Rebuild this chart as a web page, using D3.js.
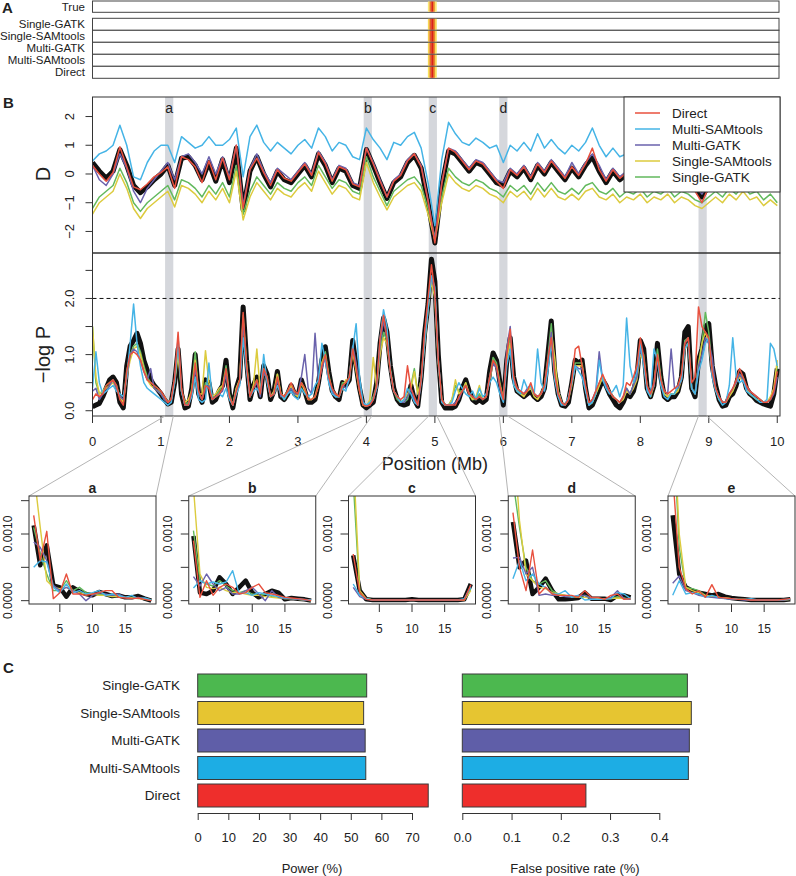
<!DOCTYPE html>
<html><head><meta charset="utf-8">
<script src="https://cdn.jsdelivr.net/npm/d3@7"></script>
<style>body{margin:0;background:#fff}svg{display:block}text{font-family:"Liberation Sans",Arial,Helvetica,sans-serif;fill:#222}</style>
</head><body>
<svg id="chart" width="796" height="876"></svg>
<script>
// ---------------- DATA ----------------
const methods = ["Direct","Multi-SAMtools","Multi-GATK","Single-SAMtools","Single-GATK"];
const drawOrder = ["True","Single-GATK","Single-SAMtools","Multi-GATK","Multi-SAMtools","Direct"];
const rowLabelsA = ["True","Single-GATK","Single-SAMtools","Multi-GATK","Multi-SAMtools","Direct"];
const barCats = ["Single-GATK","Single-SAMtools","Multi-GATK","Multi-SAMtools","Direct"];
const powerVals = [55.2, 54.2, 54.7, 54.9, 75.3];
const fprVals = [0.457, 0.465, 0.461, 0.459, 0.251];
const powerTicks = [0,10,20,30,40,50,60,70];
const fprTicks = [0,0.1,0.2,0.3,0.4];
const posTicks = [0,1,2,3,4,5,6,7,8,9,10];
const dTicks = [-2,-1,0,1,2];
const pTicks = [0,0.5,1,1.5,2,2.5];
const pLabelTicks = [0,1,2];
const insetYTicks = [0,0.0005,0.001,0.0015];
const insetYLabelTicks = [0,0.001];
const insetXTicks = [5,10,15];
const zoomNames = ["a","b","c","d","e"];
const zoomCenters = [1.12, 4.02, 4.97, 6.0, 8.91];
const threshold = 2.0;

// Panel A heat strip
const heatPos = [4.91, 4.935, 4.96, 4.985, 5.01];
const heatTrue = [0.25,0.7,1.0,0.7,0.25];
const heatSingleGATK = [0.35,0.8,1.0,0.8,0.35];
const heatSingleSAMtools = [0.4,0.8,1.0,0.8,0.35];
const heatMultiGATK = [0.35,0.8,1.0,0.8,0.3];
const heatMultiSAMtools = [0.35,0.75,1.0,0.8,0.35];
const heatDirect = [0.3,0.75,1.0,0.75,0.3];

// D statistic, 0.1 Mb grid
const dPos = d3.range(101).map(i => +(i*0.1).toFixed(2));
const trueD = [0.40,0.10,-0.15,0.10,0.85,0.30,-0.40,-0.65,-0.45,-0.20,
0.00,0.30,-0.40,0.55,0.60,0.30,-0.20,0.40,-0.25,0.50,
-0.30,0.90,-1.25,0.10,0.60,0.00,-0.45,0.10,-0.20,-0.30,
0.00,0.30,-0.10,0.70,0.30,-0.30,0.20,0.10,-0.40,-0.50,
0.85,0.30,-0.30,-0.85,-0.30,-0.10,0.40,0.65,0.20,-1.00,
-2.40,-0.40,0.80,0.70,0.40,0.10,0.40,0.30,0.00,-0.30,
-0.40,0.10,-0.10,0.20,-0.20,0.30,0.00,0.40,0.10,-0.20,
0.20,-0.10,0.30,0.60,0.10,-0.30,0.10,-0.20,0.00,-0.20,
0.20,-0.20,0.10,-0.30,0.00,-0.20,0.10,-0.30,-0.50,-0.80,
-0.40,0.00,-0.30,0.10,-0.20,0.20,-0.10,0.00,-0.30,-0.10,
0.00];
const directD = [0.30,0.00,-0.25,0.05,0.95,0.25,-0.45,-0.55,-0.35,-0.10,
0.05,0.25,-0.50,0.60,0.50,0.25,-0.30,0.45,-0.20,0.55,
-0.20,1.00,-1.20,0.15,0.55,0.05,-0.40,0.15,-0.15,-0.25,
0.05,0.35,-0.05,0.75,0.35,-0.25,0.25,0.15,-0.35,-0.45,
0.90,0.35,-0.25,-0.80,-0.25,-0.05,0.45,0.70,0.25,-0.95,
-2.40,-0.35,0.90,0.75,0.45,0.15,0.45,0.35,0.05,-0.25,
-0.50,0.15,-0.05,0.25,-0.15,0.35,0.05,0.45,0.15,-0.15,
0.25,-0.05,0.35,0.90,0.15,-0.25,0.15,-0.15,0.05,-0.15,
0.25,-0.15,0.15,-0.25,0.05,-0.15,0.15,-0.35,-0.60,-1.00,
-0.45,0.05,-0.25,0.15,-0.15,0.25,-0.05,0.05,-0.25,-0.05,
0.05];
const msamD = [0.45,0.70,0.80,1.00,1.70,1.00,-0.10,-0.20,0.40,0.80,
1.00,1.00,0.40,1.30,1.10,0.90,1.00,1.30,1.00,1.00,
1.20,1.60,-0.10,1.30,1.70,1.10,0.80,1.10,0.90,0.70,
1.00,1.20,0.90,1.60,1.30,0.80,1.10,1.00,0.60,0.50,
1.60,1.20,0.90,0.50,1.10,1.00,1.30,1.45,0.90,-0.30,
-1.80,0.50,1.80,1.40,1.10,1.00,1.25,1.10,0.90,1.00,
0.40,1.00,0.80,1.10,0.80,1.40,0.90,1.20,0.90,0.70,
1.00,0.80,1.10,1.60,1.00,0.60,0.90,0.60,0.70,0.60,
0.90,0.50,0.80,0.50,0.70,0.50,0.80,0.40,0.30,0.00,
0.50,0.90,0.70,1.10,0.90,1.50,1.10,1.20,0.80,1.00,
0.90];
const mgatkD = [0.30,-0.20,-0.40,0.00,0.70,0.20,-0.60,-1.00,-0.50,-0.20,
0.10,0.40,-0.20,0.60,0.70,0.40,0.00,0.60,0.00,0.60,
-0.10,1.00,-1.10,0.20,0.70,0.10,-0.30,0.20,0.00,-0.20,
0.10,0.40,0.00,0.80,0.40,-0.20,0.30,0.20,-0.30,-0.40,
0.90,0.40,-0.20,-0.80,-0.20,0.00,0.50,0.70,0.30,-0.90,
-2.30,-0.30,0.90,0.80,0.50,0.20,0.50,0.40,0.10,-0.20,
-0.30,0.20,0.00,0.30,-0.10,0.40,0.10,0.50,0.20,-0.10,
0.40,0.00,0.40,0.70,0.30,-0.20,0.20,-0.10,0.10,-0.10,
0.30,-0.10,0.20,-0.20,0.10,-0.10,0.20,-0.20,-0.40,-0.70,
-0.30,0.10,-0.20,0.20,-0.10,0.30,0.00,0.10,-0.20,0.00,
0.10];
const ssamD = [-1.40,-1.00,-0.80,-0.60,0.00,-0.50,-1.20,-1.55,-1.20,-1.00,
-0.80,-0.60,-1.15,-0.40,-0.50,-0.70,-1.00,-0.60,-0.90,-0.50,
-1.00,0.10,-1.60,-0.80,-0.30,-0.60,-0.90,-0.50,-0.70,-0.80,
-0.50,-0.30,-0.60,0.10,-0.30,-0.70,-0.40,-0.50,-0.80,-0.90,
0.40,-0.30,-0.80,-1.25,-0.80,-0.60,-0.40,-0.30,-0.60,-1.40,
-2.30,-1.00,0.00,-0.30,-0.50,-0.60,-0.40,-0.50,-0.70,-0.80,
-1.00,-0.60,-0.80,-0.60,-0.90,-0.50,-0.80,-0.50,-0.80,-0.90,
-0.70,-0.90,-0.60,-0.50,-0.80,-0.90,-0.70,-1.00,-0.80,-0.90,
-0.70,-1.00,-0.80,-0.90,-0.70,-1.00,-0.80,-0.90,-1.10,-1.20,
-1.00,-0.80,-1.00,-0.70,-0.90,-0.60,-0.90,-0.80,-1.10,-0.90,
-1.10];
const sgatkD = [-1.20,-0.80,-0.60,-0.40,0.20,-0.30,-1.00,-1.30,-1.00,-0.80,
-0.60,-0.40,-0.90,-0.20,-0.30,-0.50,-0.80,-0.40,-0.70,-0.30,
-0.80,0.30,-1.40,-0.60,-0.10,-0.40,-0.70,-0.30,-0.50,-0.60,
-0.30,-0.10,-0.40,0.30,-0.10,-0.50,-0.20,-0.30,-0.60,-0.70,
0.60,-0.10,-0.60,-1.10,-0.60,-0.40,-0.20,-0.10,-0.40,-1.20,
-2.20,-0.80,0.20,-0.10,-0.30,-0.40,-0.20,-0.30,-0.50,-0.60,
-0.80,-0.40,-0.60,-0.40,-0.70,-0.30,-0.60,-0.30,-0.60,-0.70,
-0.50,-0.70,-0.40,-0.30,-0.60,-0.70,-0.50,-0.80,-0.60,-0.70,
-0.50,-0.80,-0.60,-0.70,-0.50,-0.80,-0.60,-0.70,-0.90,-1.00,
-0.80,-0.60,-0.80,-0.50,-0.70,-0.40,-0.70,-0.60,-0.90,-0.70,
-1.00];

// -log P, 0.05 Mb grid
const pPos = d3.range(201).map(i => +(i*0.05).toFixed(2));
const trueP = [0.07,0.10,0.13,0.25,0.40,0.55,0.60,0.50,0.15,0.05,0.80,1.15,1.25,1.38,1.20,0.90,0.72,0.55,0.45,0.38,
0.30,0.20,0.12,0.15,0.50,1.10,0.30,0.05,0.08,0.40,1.00,0.30,0.15,0.55,0.50,0.15,0.20,0.35,0.45,0.90,
0.30,0.05,0.40,0.60,1.85,0.90,0.20,0.45,0.60,0.25,0.80,0.65,0.20,0.35,0.70,0.25,0.20,0.30,0.45,0.30,
0.25,0.55,0.35,0.15,0.15,0.20,0.50,0.90,1.14,0.70,0.36,0.25,0.20,0.50,0.45,0.55,1.25,0.80,0.40,0.10,
0.05,0.10,0.15,0.50,1.20,1.65,1.40,0.80,0.40,0.20,0.12,0.10,0.12,0.45,0.20,0.08,0.60,1.38,1.90,2.70,
2.30,1.00,0.15,0.05,0.05,0.05,0.08,0.20,0.40,0.55,0.35,0.20,0.15,0.20,0.15,0.20,0.70,1.03,0.90,0.50,
0.10,0.90,1.30,0.60,0.35,0.30,0.25,0.30,0.35,0.25,0.20,0.25,0.40,1.00,1.60,0.70,0.30,0.10,0.08,0.15,
0.50,0.90,0.85,0.90,0.40,0.05,0.10,0.25,0.40,0.55,0.45,0.30,0.20,0.10,0.05,0.15,0.30,0.25,0.35,0.60,
1.25,1.10,0.40,0.25,0.45,1.20,0.60,0.25,0.20,0.25,0.25,0.35,0.60,1.40,1.50,0.40,0.25,0.90,1.10,1.50,
1.55,0.80,0.45,0.20,0.08,0.10,0.25,0.30,0.45,0.70,0.65,0.40,0.30,0.25,0.18,0.15,0.12,0.10,0.08,0.30,
0.75];
const directP = [0.20,0.30,0.25,0.30,0.45,0.50,0.55,0.45,0.20,0.10,0.70,1.00,1.05,1.00,0.90,0.70,0.55,0.50,0.45,0.40,
0.35,0.25,0.15,0.20,0.60,1.40,0.40,0.10,0.10,0.35,0.85,0.35,0.20,0.45,0.40,0.20,0.25,0.30,0.40,0.75,
0.25,0.10,0.35,0.55,1.75,0.80,0.25,0.40,0.55,0.30,0.75,0.60,0.25,0.30,0.60,0.30,0.25,0.35,0.50,0.35,
0.30,0.50,0.40,0.20,0.20,0.25,0.45,0.80,1.00,0.60,0.40,0.30,0.25,0.45,0.50,0.60,1.10,0.75,0.35,0.10,
0.08,0.10,0.20,0.45,1.30,1.70,1.30,0.70,0.35,0.25,0.20,0.25,0.80,0.40,0.25,0.10,0.55,1.40,2.00,2.60,
2.10,0.90,0.20,0.10,0.10,0.10,0.10,0.25,0.35,0.45,0.30,0.25,0.20,0.25,0.20,0.25,0.60,0.90,0.80,0.45,
0.20,1.00,1.45,0.60,0.40,0.35,0.30,0.35,0.50,0.30,0.25,0.30,0.45,0.90,1.30,0.65,0.30,0.15,0.10,0.20,
0.55,1.10,1.15,0.80,0.45,0.15,0.20,0.35,0.50,0.65,0.50,0.35,0.25,0.20,0.15,0.25,0.50,0.45,0.60,0.80,
1.30,0.95,0.45,0.30,0.50,1.00,0.55,0.35,0.30,0.35,0.40,0.45,0.65,1.20,1.30,0.50,0.60,1.85,1.50,1.40,
1.30,0.70,0.40,0.25,0.15,0.15,0.30,0.40,0.55,0.75,0.60,0.45,0.35,0.30,0.25,0.20,0.15,0.15,0.20,0.35,
0.70];
const msamP = [0.40,1.05,0.50,0.30,0.35,0.40,0.45,0.35,0.30,0.25,0.60,1.20,1.90,1.20,0.80,0.50,0.40,0.35,0.30,0.25,
0.20,0.15,0.10,0.15,0.50,1.20,0.35,0.10,0.10,0.25,0.60,0.20,0.15,0.20,0.85,0.20,0.25,0.30,0.25,0.40,
0.20,0.10,0.30,0.45,1.30,0.70,0.25,0.35,0.40,0.30,1.00,0.50,0.25,0.30,0.45,0.30,0.20,0.30,0.35,0.25,
0.20,0.40,0.30,0.25,0.30,0.45,0.55,1.20,0.90,0.50,0.30,0.25,0.25,0.40,0.35,0.60,1.10,1.55,0.60,0.15,
0.10,0.15,0.20,0.40,1.30,1.80,1.50,0.70,0.35,0.25,0.15,0.20,0.40,0.30,0.15,0.10,0.50,1.20,1.80,2.40,
2.20,0.90,0.15,0.10,0.10,0.15,0.35,0.50,0.40,0.30,0.25,0.35,0.20,0.40,0.25,0.30,0.50,0.60,0.50,0.30,
0.15,0.80,1.10,0.45,0.35,0.30,0.55,0.40,0.45,0.30,1.10,0.50,0.35,0.70,1.20,0.55,0.25,0.10,0.10,0.25,
0.50,0.80,0.70,0.60,0.35,0.10,0.15,0.30,0.90,0.55,0.40,0.30,0.35,0.45,0.25,0.45,1.65,0.80,0.50,0.70,
1.20,0.80,0.35,0.25,1.10,0.90,0.45,0.25,0.20,0.30,0.30,0.45,0.55,1.10,1.20,0.40,0.30,0.70,0.90,1.20,
1.30,0.60,0.35,0.20,0.10,0.15,0.45,1.30,0.60,0.50,0.55,0.35,0.30,0.25,0.20,0.15,0.15,0.20,1.20,1.10,
0.80];
const mgatkP = [0.35,0.40,0.20,0.30,0.35,0.45,0.55,0.40,0.25,0.20,0.60,1.00,1.10,1.05,0.90,0.70,0.55,0.75,0.40,0.35,
0.30,0.20,0.15,0.20,0.55,1.30,0.35,0.10,0.10,0.30,0.75,0.30,0.20,0.40,0.45,0.20,0.25,0.30,0.35,0.65,
0.25,0.10,0.35,0.50,1.60,0.75,0.25,0.40,0.50,0.25,0.70,0.55,0.25,0.30,0.55,0.25,0.25,0.30,0.40,0.30,
0.30,0.60,1.00,0.40,0.30,1.38,0.50,0.75,0.95,0.55,0.35,0.25,0.25,0.45,0.40,0.55,1.15,0.85,0.40,0.15,
0.08,0.10,0.20,0.40,1.20,1.60,1.30,0.70,0.35,0.25,0.15,0.15,0.25,0.40,0.20,0.10,0.55,1.30,1.90,2.40,
2.10,0.90,0.20,0.10,0.10,0.10,0.15,0.20,0.35,0.45,0.30,0.25,0.20,0.25,0.20,0.25,0.60,0.85,0.75,0.40,
0.20,1.10,1.50,0.55,0.40,0.35,0.30,0.40,0.45,0.30,0.25,0.30,0.40,0.90,1.40,0.60,0.30,0.15,0.10,0.20,
0.50,0.80,0.75,0.75,0.40,0.10,0.20,0.35,1.05,0.55,0.45,0.35,0.25,0.20,0.15,0.25,0.40,0.30,0.45,0.60,
1.10,0.90,0.40,0.30,0.45,0.95,0.55,0.35,0.30,1.10,0.40,0.40,0.55,1.20,1.30,0.40,0.30,0.80,1.00,1.30,
1.20,0.95,0.40,0.25,0.15,0.15,0.30,0.40,0.50,0.65,0.55,0.40,0.35,0.30,0.25,0.20,0.15,0.15,0.20,0.30,
0.60];
const ssamP = [1.50,0.60,0.30,0.35,0.40,0.45,0.50,0.40,0.25,0.15,0.60,0.90,1.10,1.15,1.00,0.75,0.55,0.45,0.40,0.35,
0.30,0.25,0.15,0.20,0.50,1.00,0.35,0.15,0.20,0.35,0.90,0.30,0.30,1.07,0.50,0.25,0.30,0.40,0.45,0.70,
0.25,0.10,0.40,0.55,1.60,0.80,0.25,0.45,1.10,0.35,0.70,0.55,0.25,0.35,0.65,0.30,0.25,0.35,0.45,0.30,
0.25,0.50,0.35,0.20,0.20,0.25,0.45,0.85,1.00,0.60,0.35,0.30,0.25,0.40,0.55,0.55,1.05,0.70,0.35,0.10,
0.08,0.20,0.95,0.40,1.00,1.30,1.20,0.70,0.35,0.25,0.15,0.20,0.30,0.40,0.70,0.30,0.55,1.20,1.80,2.30,
2.00,0.85,0.20,0.10,0.10,0.20,0.55,0.30,0.35,0.50,0.30,0.20,0.25,0.45,0.20,0.25,0.55,0.85,0.80,0.45,
0.20,0.90,1.20,0.55,0.35,0.30,0.25,0.35,0.40,0.25,0.20,0.30,0.45,0.85,1.40,0.95,0.35,0.15,0.10,0.20,
0.45,0.80,0.80,0.80,0.40,0.10,0.15,0.30,0.45,0.60,0.45,0.35,0.25,0.20,0.15,0.20,0.35,0.30,0.40,0.55,
1.00,0.90,0.40,0.25,0.45,1.00,0.55,0.30,0.25,0.30,0.30,0.35,0.55,1.10,1.20,0.40,0.30,0.80,1.20,1.40,
1.20,0.70,0.40,0.20,0.15,0.15,0.25,0.35,0.50,0.60,0.55,0.40,0.30,0.25,0.20,0.20,0.15,0.15,0.25,0.40,
0.90];
const sgatkP = [1.50,0.50,0.30,0.35,0.45,0.50,0.55,0.45,0.25,0.15,0.70,1.00,1.15,1.20,1.05,0.80,0.60,0.50,0.45,0.40,
0.30,0.20,0.15,0.20,0.55,1.10,0.35,0.10,0.15,0.40,1.05,0.30,0.20,0.50,0.45,0.20,0.25,0.35,0.45,0.80,
0.30,0.10,0.40,0.55,1.70,0.85,0.25,0.45,0.55,0.30,0.75,0.60,0.25,0.30,0.65,0.30,0.20,0.30,0.45,0.30,
0.25,0.50,0.40,0.20,0.20,0.25,0.50,0.85,1.05,0.65,0.35,0.25,0.25,0.50,0.50,0.60,1.15,0.75,0.40,0.10,
0.08,0.15,0.25,0.45,1.10,1.40,1.25,0.75,0.35,0.20,0.15,0.15,0.20,0.45,0.75,0.30,0.55,1.30,1.90,2.40,
2.10,0.90,0.20,0.10,0.10,0.20,0.45,0.35,0.35,0.50,0.30,0.20,0.20,0.30,0.20,0.25,0.60,0.95,0.85,0.50,
0.20,0.95,1.30,0.55,0.40,0.30,0.30,0.35,0.40,0.30,0.25,0.30,0.45,0.95,1.55,0.70,0.35,0.15,0.10,0.20,
0.50,0.85,0.85,0.85,0.40,0.10,0.15,0.30,0.45,0.60,0.45,0.35,0.25,0.20,0.15,0.20,0.40,0.30,0.45,0.60,
1.10,1.00,0.40,0.30,0.45,1.10,0.60,0.30,0.25,0.30,0.30,0.40,0.60,1.25,1.30,0.40,0.30,0.85,1.20,1.75,
1.40,0.75,0.40,0.20,0.15,0.15,0.30,0.35,0.50,0.65,0.60,0.40,0.30,0.25,0.20,0.20,0.15,0.15,0.20,0.35,
0.80];

// Zoomed insets (a..e), x = 1..19
const insetX = d3.range(1, 20);
const insetTrue = [
[0.00113,0.00053,0.00083,0.00023,0.00020,0.00006,0.00020,0.00014,0.00010,0.00008,0.00013,0.00010,0.00007,0.00008,0.00005,0.00005,0.00007,0.00003,0.00000],
[0.00097,0.00012,0.00010,0.00015,0.00035,0.00025,0.00010,0.00020,0.00030,0.00012,0.00005,0.00010,0.00015,0.00012,0.00002,0.00004,0.00003,0.00002,0.00000],
[0.00068,0.00015,0.00002,0.00001,0.00001,0.00001,0.00001,0.00001,0.00001,0.00002,0.00001,0.00001,0.00001,0.00001,0.00001,0.00001,0.00001,0.00002,0.00025],
[0.00118,0.00050,0.00060,0.00010,0.00020,0.00033,0.00015,0.00002,0.00002,0.00003,0.00004,0.00012,0.00003,0.00003,0.00003,0.00001,0.00008,0.00008,0.00005],
[0.00128,0.00040,0.00020,0.00015,0.00012,0.00010,0.00008,0.00010,0.00006,0.00004,0.00003,0.00002,0.00001,0.00001,0.00001,0.00001,0.00001,0.00001,0.00002]];
const insetDirect = [
[0.00128,0.00060,0.00104,0.00003,0.00012,0.00040,0.00010,0.00010,0.00008,0.00010,0.00012,0.00015,0.00015,0.00005,0.00004,0.00003,0.00004,0.00002,0.00000],
[0.00090,0.00005,0.00030,0.00008,0.00020,0.00025,0.00020,0.00010,0.00012,0.00020,0.00025,0.00012,0.00010,0.00008,0.00005,0.00004,0.00003,0.00002,0.00000],
[0.00070,0.00012,0.00002,0.00001,0.00001,0.00001,0.00001,0.00001,0.00001,0.00001,0.00001,0.00001,0.00001,0.00001,0.00001,0.00001,0.00001,0.00001,0.00024],
[0.00132,0.00050,0.00015,0.00076,0.00010,0.00020,0.00010,0.00008,0.00008,0.00008,0.00005,0.00015,0.00005,0.00005,0.00002,0.00008,0.00010,0.00002,0.00003],
[0.00190,0.00050,0.00018,0.00010,0.00015,0.00005,0.00024,0.00005,0.00004,0.00003,0.00002,0.00002,0.00001,0.00001,0.00001,0.00001,0.00001,0.00002,0.00003]];
const insetMultiSAM = [
[0.00050,0.00060,0.00058,0.00020,0.00012,0.00025,0.00012,0.00015,0.00010,0.00012,0.00015,0.00008,0.00010,0.00008,0.00005,0.00008,0.00003,0.00004,0.00001],
[0.00019,0.00030,0.00025,0.00028,0.00025,0.00028,0.00045,0.00010,0.00012,0.00008,0.00012,0.00010,0.00008,0.00006,0.00004,0.00003,0.00003,0.00002,0.00001],
[0.00025,0.00008,0.00003,0.00001,0.00001,0.00001,0.00001,0.00001,0.00001,0.00001,0.00001,0.00001,0.00001,0.00001,0.00001,0.00001,0.00001,0.00003,0.00020],
[0.00033,0.00060,0.00030,0.00040,0.00025,0.00020,0.00010,0.00010,0.00015,0.00005,0.00008,0.00001,0.00002,0.00002,0.00002,0.00003,0.00012,0.00010,0.00003],
[0.00008,0.00030,0.00010,0.00012,0.00010,0.00005,0.00008,0.00005,0.00003,0.00003,0.00002,0.00002,0.00003,0.00001,0.00001,0.00001,0.00001,0.00002,0.00002]];
const insetMultiGATK = [
[0.00088,0.00080,0.00060,0.00023,0.00015,0.00020,0.00015,0.00010,0.00000,0.00008,0.00012,0.00010,0.00008,0.00010,0.00005,0.00003,0.00005,0.00003,0.00000],
[0.00036,0.00022,0.00040,0.00025,0.00015,0.00020,0.00010,0.00010,0.00015,0.00020,0.00010,0.00000,0.00015,0.00005,0.00003,0.00003,0.00002,0.00001,0.00000],
[0.00020,0.00006,0.00002,0.00001,0.00001,0.00001,0.00001,0.00001,0.00001,0.00001,0.00001,0.00001,0.00001,0.00001,0.00001,0.00001,0.00001,0.00002,0.00022],
[0.00064,0.00065,0.00040,0.00050,0.00008,0.00010,0.00008,0.00008,0.00006,0.00005,0.00008,0.00008,0.00003,0.00002,0.00002,0.00005,0.00015,0.00003,0.00002],
[0.00026,0.00037,0.00015,0.00012,0.00008,0.00006,0.00005,0.00004,0.00003,0.00002,0.00002,0.00001,0.00001,0.00001,0.00001,0.00001,0.00001,0.00001,0.00002]];
const insetSingleSAM = [
[0.00195,0.00110,0.00030,0.00020,0.00018,0.00020,0.00015,0.00012,0.00010,0.00010,0.00008,0.00008,0.00006,0.00006,0.00005,0.00004,0.00003,0.00002,0.00001],
[0.00170,0.00040,0.00020,0.00018,0.00020,0.00015,0.00012,0.00012,0.00010,0.00008,0.00008,0.00006,0.00005,0.00004,0.00003,0.00003,0.00002,0.00001,0.00000],
[0.00220,0.00015,0.00003,0.00001,0.00001,0.00001,0.00001,0.00001,0.00001,0.00001,0.00001,0.00001,0.00001,0.00001,0.00001,0.00001,0.00001,0.00001,0.00015],
[0.00260,0.00120,0.00040,0.00030,0.00020,0.00018,0.00012,0.00010,0.00008,0.00006,0.00005,0.00005,0.00004,0.00003,0.00003,0.00003,0.00004,0.00003,0.00002],
[0.00300,0.00100,0.00020,0.00015,0.00012,0.00008,0.00006,0.00005,0.00004,0.00003,0.00002,0.00002,0.00001,0.00001,0.00001,0.00001,0.00001,0.00001,0.00002]];
const insetSingleGATK = [
[0.00110,0.00070,0.00040,0.00015,0.00015,0.00030,0.00015,0.00020,0.00012,0.00010,0.00010,0.00008,0.00007,0.00008,0.00005,0.00005,0.00004,0.00003,0.00001],
[0.00105,0.00030,0.00025,0.00022,0.00030,0.00022,0.00015,0.00012,0.00015,0.00010,0.00008,0.00010,0.00006,0.00005,0.00003,0.00003,0.00002,0.00001,0.00000],
[0.00180,0.00010,0.00003,0.00001,0.00001,0.00001,0.00001,0.00001,0.00001,0.00001,0.00001,0.00001,0.00001,0.00001,0.00001,0.00001,0.00001,0.00002,0.00018],
[0.00180,0.00110,0.00050,0.00030,0.00025,0.00030,0.00015,0.00010,0.00008,0.00006,0.00006,0.00008,0.00004,0.00003,0.00003,0.00003,0.00006,0.00004,0.00002],
[0.00280,0.00080,0.00020,0.00018,0.00015,0.00008,0.00006,0.00005,0.00004,0.00003,0.00002,0.00002,0.00001,0.00001,0.00001,0.00001,0.00001,0.00001,0.00002]];

// ---------------- STYLE ----------------
const lineColor = {"True":"#111111","Direct":"#e8503e","Multi-SAMtools":"#45b4e6","Multi-GATK":"#6a62ac","Single-SAMtools":"#dccb3e","Single-GATK":"#62b95d"};
const barColor = {"Single-GATK":"#4cb84f","Single-SAMtools":"#e6c531","Multi-GATK":"#5f5ea8","Multi-SAMtools":"#1dade4","Direct":"#ee2e2c"};
const lw = name => name === "True" ? 5 : 1.5;

const dSeries = {"True":trueD,"Direct":directD,"Multi-SAMtools":msamD,"Multi-GATK":mgatkD,"Single-SAMtools":ssamD,"Single-GATK":sgatkD};
const pSeries = {"True":trueP,"Direct":directP,"Multi-SAMtools":msamP,"Multi-GATK":mgatkP,"Single-SAMtools":ssamP,"Single-GATK":sgatkP};
const insetSeries = {"True":insetTrue,"Direct":insetDirect,"Multi-SAMtools":insetMultiSAM,"Multi-GATK":insetMultiGATK,"Single-SAMtools":insetSingleSAM,"Single-GATK":insetSingleGATK};
const heatRows = {"True":heatTrue,"Single-GATK":heatSingleGATK,"Single-SAMtools":heatSingleSAMtools,"Multi-GATK":heatMultiGATK,"Multi-SAMtools":heatMultiSAMtools,"Direct":heatDirect};

// ---------------- DRAW ----------------
const svg = d3.select("#chart");
const defs = svg.append("defs");

const X0 = 92.5, X1 = 780;
const x = d3.scaleLinear().domain([0, 10.04]).range([X0, X1]);
const yD = d3.scaleLinear().domain([-2.75, 2.68]).range([253, 97]);
const yP = d3.scaleLinear().domain([-0.094, 2.81]).range([416, 253]);

// Panel letters
svg.append("text").attr("x",2).attr("y",13).attr("font-size",15).attr("font-weight","bold").text("A");
svg.append("text").attr("x",3).attr("y",108).attr("font-size",15).attr("font-weight","bold").text("B");
svg.append("text").attr("x",3).attr("y",673).attr("font-size",15).attr("font-weight","bold").text("C");

// ---- Panel A ----
const rowY = d3.scaleOrdinal().domain(rowLabelsA).range([1, 18.3, 30.3, 42.3, 54.3, 66.3]);
const rowH = 12;
const heatColor = d3.scaleLinear().domain([0, 0.3, 0.65, 1]).range(["#ffffff", "#f6e35c", "#f08a2a", "#d8231b"]);
const cellW = x(0.025) - x(0);
rowLabelsA.forEach((lab, r) => {
  const y0 = rowY(lab);
  const h = lab === "True" ? 11.3 : rowH;
  svg.append("rect").attr("x", X0).attr("y", y0).attr("width", X1 - X0 - 1).attr("height", h)
    .attr("fill", "#fff").attr("stroke", "#444").attr("stroke-width", 1);
  svg.append("g").selectAll("rect").data(heatRows[lab]).join("rect")
    .attr("x", (d, i) => x(heatPos[i]) - cellW / 2).attr("y", y0 + 0.5)
    .attr("width", cellW + 0.3).attr("height", h - 1)
    .attr("fill", d => heatColor(d));
  svg.append("text").attr("x", 85).attr("y", y0 + h / 2).attr("dy", "0.35em")
    .attr("text-anchor", "end").attr("font-size", 11.5).text(lab);
});

// ---- Panel B ----
defs.append("clipPath").attr("id","clipD").append("rect").attr("x",X0).attr("y",97).attr("width",X1-X0).attr("height",156);
defs.append("clipPath").attr("id","clipP").append("rect").attr("x",X0).attr("y",253).attr("width",X1-X0).attr("height",163);

// gray highlight bars
svg.append("g").selectAll("rect").data(zoomCenters).join("rect")
  .attr("x", d => x(d - 0.06)).attr("y", 97).attr("width", d => x(d + 0.06) - x(d - 0.06)).attr("height", 416 - 97)
  .attr("fill", "#d5d7dc");
svg.append("g").selectAll("text").data(zoomCenters.slice(0, 4)).join("text")
  .attr("x", d => x(d)).attr("y", 113).attr("text-anchor", "middle").attr("font-size", 14)
  .text((d, i) => zoomNames[i]);

const gD = svg.append("g").attr("clip-path", "url(#clipD)");
drawOrder.forEach(name => {
  const line = d3.line().x((d, i) => x(dPos[i])).y(d => yD(d));
  gD.append("path").datum(dSeries[name]).attr("d", line).attr("fill", "none")
    .attr("stroke", lineColor[name]).attr("stroke-width", lw(name)).attr("stroke-linejoin", "round");
});
const gP = svg.append("g").attr("clip-path", "url(#clipP)");
drawOrder.forEach(name => {
  const line = d3.line().x((d, i) => x(pPos[i])).y(d => yP(d));
  gP.append("path").datum(pSeries[name]).attr("d", line).attr("fill", "none")
    .attr("stroke", lineColor[name]).attr("stroke-width", lw(name)).attr("stroke-linejoin", "round");
});
// threshold
svg.append("line").attr("x1", X0).attr("x2", X1).attr("y1", yP(threshold)).attr("y2", yP(threshold))
  .attr("stroke", "#111").attr("stroke-dasharray", "4,3").attr("stroke-width", 1);
// boxes
svg.append("rect").attr("x", X0).attr("y", 97).attr("width", X1 - X0).attr("height", 156).attr("fill", "none").attr("stroke", "#333");
svg.append("rect").attr("x", X0).attr("y", 253).attr("width", X1 - X0).attr("height", 163).attr("fill", "none").attr("stroke", "#333");

// y axes
const gyD = svg.append("g");
gyD.selectAll("line").data(dTicks).join("line").attr("x1", X0 - 7).attr("x2", X0).attr("y1", d => yD(d)).attr("y2", d => yD(d)).attr("stroke", "#333");
gyD.selectAll("text").data(dTicks).join("text")
  .attr("transform", d => `translate(74,${yD(d)}) rotate(-90)`).attr("text-anchor", "middle")
  .attr("font-size", 13).text(d => d < 0 ? "\u2212" + Math.abs(d) : d);
const gyP = svg.append("g");
gyP.selectAll("line").data(pTicks).join("line").attr("x1", X0 - 7).attr("x2", X0).attr("y1", d => yP(d)).attr("y2", d => yP(d)).attr("stroke", "#333");
gyP.selectAll("text").data(pLabelTicks).join("text")
  .attr("transform", d => `translate(74,${yP(d)}) rotate(-90)`).attr("text-anchor", "middle")
  .attr("font-size", 13).text(d => d3.format(".1f")(d));
svg.append("text").attr("transform", `translate(50,${yD(0)}) rotate(-90)`).attr("text-anchor", "middle").attr("font-size", 20).text("D");
svg.append("text").attr("transform", `translate(50,${yP(1)}) rotate(-90)`).attr("text-anchor", "middle").attr("font-size", 20).text("\u2212log P");

// x axis
const gx = svg.append("g");
gx.selectAll("line").data(posTicks).join("line").attr("x1", d => x(d)).attr("x2", d => x(d)).attr("y1", 416).attr("y2", 423).attr("stroke", "#333");
gx.selectAll("text").data(posTicks).join("text").attr("x", d => x(d)).attr("y", 441).attr("dy", "0.35em")
  .attr("text-anchor", "middle").attr("font-size", 13).text(d => d);
svg.append("text").attr("x", x(5)).attr("y", 464).attr("dy", "0.35em").attr("text-anchor", "middle").attr("font-size", 18).text("Position (Mb)");

// legend
const lg = svg.append("g");
lg.append("rect").attr("x", 624).attr("y", 97).attr("width", X1 - 624).attr("height", 95).attr("fill", "#fff").attr("stroke", "#333");
methods.forEach((m, i) => {
  const yy = 113 + i * 16;
  lg.append("line").attr("x1", 635).attr("x2", 660).attr("y1", yy).attr("y2", yy).attr("stroke", lineColor[m]).attr("stroke-width", 1.5);
  lg.append("text").attr("x", 672).attr("y", yy).attr("dy", "0.35em").attr("font-size", 13.5).text(m);
});

// insets
const insetW = 127;
zoomNames.forEach((nm, k) => {
  const left = 29 + k * 159.75;
  const xs = d3.scaleLinear().domain([0.28, 19.72]).range([left, left + insetW]);
  const ys = d3.scaleLinear().domain([-0.00005, 0.00157]).range([604, 496]);
  const c = zoomCenters[k];
  // connectors
  svg.append("line").attr("x1", x(c - 0.06)).attr("y1", 416).attr("x2", left).attr("y2", 496).attr("stroke", "#b5b5b5");
  svg.append("line").attr("x1", x(c + 0.06)).attr("y1", 416).attr("x2", left + insetW).attr("y2", 496).attr("stroke", "#b5b5b5");
  defs.append("clipPath").attr("id", "clipI" + k).append("rect").attr("x", left).attr("y", 496).attr("width", insetW).attr("height", 108);
  const g = svg.append("g").attr("clip-path", `url(#clipI${k})`);
  drawOrder.forEach(name => {
    const line = d3.line().x((d, i) => xs(insetX[i])).y(d => ys(d));
    g.append("path").datum(insetSeries[name][k]).attr("d", line).attr("fill", "none")
      .attr("stroke", lineColor[name]).attr("stroke-width", name === "True" ? 4.5 : 1.4).attr("stroke-linejoin", "round");
  });
  svg.append("rect").attr("x", left).attr("y", 496).attr("width", insetW).attr("height", 108).attr("fill", "none").attr("stroke", "#333");
  svg.append("text").attr("x", left + insetW / 2).attr("y", 493).attr("text-anchor", "middle").attr("font-size", 14).attr("font-weight", "bold").text(nm);
  const ga = svg.append("g");
  ga.selectAll("line.yt").data(insetYTicks).join("line").attr("class","yt").attr("x1", left - 8).attr("x2", left).attr("y1", d => ys(d)).attr("y2", d => ys(d)).attr("stroke", "#333");
  ga.selectAll("text.yl").data(insetYLabelTicks).join("text").attr("class","yl")
    .attr("transform", d => `translate(${left - 17},${ys(d)}) rotate(-90)`).attr("text-anchor", "middle").attr("font-size", 12)
    .text(d => d3.format(".4f")(d));
  ga.selectAll("line.xt").data(insetXTicks).join("line").attr("class","xt").attr("x1", d => xs(d)).attr("x2", d => xs(d)).attr("y1", 604).attr("y2", 612).attr("stroke", "#333");
  ga.selectAll("text.xl").data(insetXTicks).join("text").attr("class","xl").attr("x", d => xs(d)).attr("y", 629).attr("dy", "0.35em")
    .attr("text-anchor", "middle").attr("font-size", 12).text(d => d);
});

// ---- Panel C ----
const yb = d3.scaleBand().domain(barCats).range([674, 807]).paddingInner(0.164).paddingOuter(0);
const xPow = d3.scaleLinear().domain([0, 70]).range([197.7, 412]);
const xFpr = d3.scaleLinear().domain([0, 0.4]).range([462.3, 659.3]);
svg.append("g").selectAll("rect").data(barCats).join("rect")
  .attr("x", xPow(0)).attr("y", d => yb(d)).attr("width", (d, i) => xPow(powerVals[i]) - xPow(0)).attr("height", yb.bandwidth())
  .attr("fill", d => barColor[d]).attr("stroke", "#3a3a3a").attr("stroke-width", 1);
svg.append("g").selectAll("rect").data(barCats).join("rect")
  .attr("x", xFpr(0)).attr("y", d => yb(d)).attr("width", (d, i) => xFpr(fprVals[i]) - xFpr(0)).attr("height", yb.bandwidth())
  .attr("fill", d => barColor[d]).attr("stroke", "#3a3a3a").attr("stroke-width", 1);
svg.append("g").selectAll("text").data(barCats).join("text")
  .attr("x", 180).attr("y", d => yb(d) + yb.bandwidth() / 2).attr("dy", "0.35em").attr("text-anchor", "end")
  .attr("font-size", 13.5).text(d => d);

function barAxis(scale, ticks, fmt) {
  const g = svg.append("g").attr("transform", "translate(0,813)")
    .call(d3.axisBottom(scale).tickValues(ticks).tickSize(7).tickSizeOuter(0).tickPadding(13).tickFormat(fmt));
  g.select(".domain").attr("stroke", "#333");
  g.selectAll(".tick line").attr("stroke", "#333");
  g.selectAll(".tick text").attr("font-size", 13).attr("font-family", '"Liberation Sans",Arial,sans-serif').attr("fill", "#222");
}
barAxis(xPow, powerTicks, d3.format("d"));
barAxis(xFpr, fprTicks, d3.format(".1f"));
svg.append("text").attr("x", 312).attr("y", 868).attr("dy", "0.35em").attr("text-anchor", "middle").attr("font-size", 13).text("Power (%)");
svg.append("text").attr("x", 575).attr("y", 868).attr("dy", "0.35em").attr("text-anchor", "middle").attr("font-size", 13).text("False positive rate (%)");
</script>
</body></html>
